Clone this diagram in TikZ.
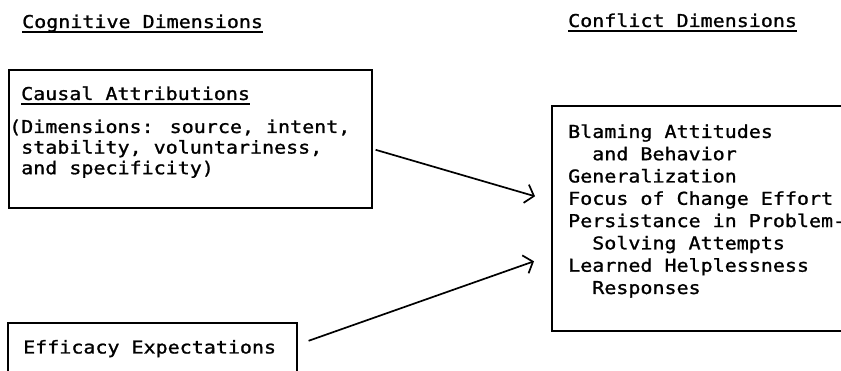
\documentclass[tikz,border=0pt]{standalone}
\usepackage{fontspec}
\usetikzlibrary{arrows.meta}
\newfontfamily\gothicmono{DejaVu Sans Mono}[FakeStretch=1.13, FakeBold=1.2]
\newcommand\ulined[1]{\setbox0\hbox{#1}\rlap{\rule[-4.6pt]{\wd0}{1.4pt}}\box0}
\newcommand\ind[1]{\hphantom{#1}}
\begin{document}
\begin{tikzpicture}[x=1pt, y=-1pt,
    font=\gothicmono\fontsize{17.7}{22.3}\selectfont,
    txt/.style={inner sep=0pt, anchor=base west, align=left},
    frame/.style={draw, line width=1.6pt, inner sep=0pt, anchor=north west},
    arr/.style={line width=1.7pt, -{Straight Barb[length=8pt, width=19pt, line width=1.7pt]}}]
    \clip (0,0) rectangle (841,371);
    % headings
    \node [txt] (cogtitle) at (22,28) {\ulined{Cognitive Dimensions}};
    \node [txt] (conftitle) at (568,27) {\ulined{Conflict Dimensions}};
    % boxes
    \node [frame, minimum width=363pt, minimum height=138pt] (attrbox) at (8,69) {};
    \node [frame, minimum width=289pt, minimum height=58pt] (effbox) at (7,322) {};
    \node [frame, minimum width=320pt, minimum height=225pt] (confbox) at (551,105) {};
    % box texts (base = last line)
    \node [txt] (causal) at (21,100) {\ulined{Causal Attributions}};
    \node [txt, font=\gothicmono\fontsize{17.7}{20.6}\selectfont] (dims) at (9,174.2)
      {(Dimensions: source, intent,\\ \ind{x}stability, voluntariness,\\ \ind{x}and specificity)};
    \node [txt] (efficacy) at (23,353.5) {Efficacy Expectations};
    \node [txt] (outcomes) at (568,294)
      {Blaming Attitudes\\ \ind{xx}and Behavior\\ Generalization\\ Focus of Change Effort\\
       Persistance in Problem-\\ \ind{xx}Solving Attempts\\ Learned Helplessness\\ \ind{xx}Responses};
    % connectors
    \draw [arr] ([shift={(3,11)}]attrbox.east) -- ([shift={(-16,-22)}]confbox.west);
    \draw [arr] ([shift={(11,-11)}]effbox.east) -- ([shift={(-17,43)}]confbox.west);
\end{tikzpicture}
\end{document}
